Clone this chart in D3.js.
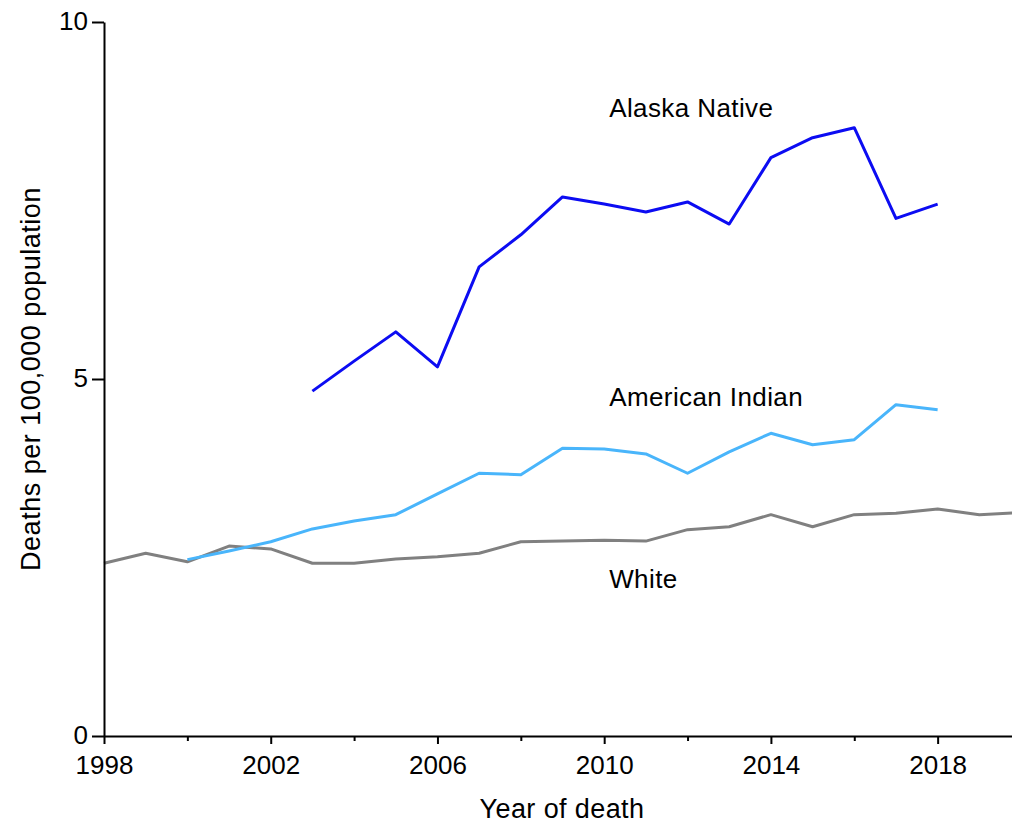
<!DOCTYPE html>
<html>
<head>
<meta charset="utf-8">
<script src="https://cdn.jsdelivr.net/npm/d3@7"></script>
<style>
  html, body { margin: 0; padding: 0; background: #fff; }
  svg { display: block; }
  text { font-family: "Liberation Sans", Arial, sans-serif; fill: #000; }
</style>
</head>
<body>
<svg id="chart" width="1012" height="824"></svg>
<script>
// Death rates per 100,000 population, by year of death
const whiteYears = d3.range(1998, 2021);
const whiteRates = [2.42, 2.56, 2.44, 2.66, 2.62, 2.42, 2.42, 2.48, 2.51, 2.56, 2.72, 2.73,
                    2.74, 2.73, 2.89, 2.93, 3.10, 2.93, 3.10, 3.12, 3.18, 3.10, 3.13];

const americanIndianYears = d3.range(2000, 2019);
const americanIndianRates = [2.47, 2.59, 2.72, 2.90, 3.01, 3.10, 3.39, 3.68, 3.66, 4.03,
                             4.02, 3.95, 3.68, 3.98, 4.24, 4.08, 4.15, 4.64, 4.57];

const alaskaNativeYears = d3.range(2003, 2019);
const alaskaNativeRates = [4.83, 5.25, 5.66, 5.17, 6.57, 7.02, 7.55, 7.45, 7.34, 7.48,
                           7.17, 8.10, 8.38, 8.52, 7.25, 7.45];

const xMajorTicks = [1998, 2002, 2006, 2010, 2014, 2018];
const xMinorTicks = [2000, 2004, 2008, 2012, 2016];
const yTicks = [0, 5, 10];

const seriesLabels = ["Alaska Native", "American Indian", "White"];

const svg = d3.select("#chart");
const margin = { left: 104, top: 22, bottom: 88 };
const plotH = 824 - margin.top - margin.bottom;

const x = d3.scaleLinear().domain([1998, 2020]).range([margin.left, margin.left + 917]);
const y = d3.scaleLinear().domain([0, 10]).range([margin.top + plotH, margin.top]);

const line = d3.line().x(d => x(d[0])).y(d => y(d[1]));

const series = [
  { name: seriesLabels[2], years: whiteYears, rates: whiteRates, color: "#808080" },
  { name: seriesLabels[1], years: americanIndianYears, rates: americanIndianRates, color: "#49b5fb" },
  { name: seriesLabels[0], years: alaskaNativeYears, rates: alaskaNativeRates, color: "#0c0cf2" }
];

series.forEach(s => {
  svg.append("path")
    .datum(s.years.map((yr, i) => [yr, s.rates[i]]))
    .attr("fill", "none")
    .attr("stroke", s.color)
    .attr("stroke-width", 3)
    .attr("stroke-linejoin", "round")
    .attr("d", line);
});

// x axis: labelled major ticks plus unlabelled minor ticks
const xAxis = svg.append("g")
  .attr("transform", `translate(0,${y(0)})`)
  .call(d3.axisBottom(x).tickValues(xMajorTicks).tickFormat(d3.format("d")).tickSize(8).tickSizeOuter(0));
svg.append("g")
  .attr("transform", `translate(0,${y(0)})`)
  .call(d3.axisBottom(x).tickValues(xMinorTicks).tickFormat("").tickSize(5).tickSizeOuter(0))
  .select(".domain").remove();

const yAxis = svg.append("g")
  .attr("transform", `translate(${x(1998)},0)`)
  .call(d3.axisLeft(y).tickValues(yTicks).tickFormat(d3.format("d")).tickSize(12).tickSizeOuter(0));

svg.selectAll(".domain").attr("stroke", "#000").attr("stroke-width", 2);
svg.selectAll(".tick line").attr("stroke", "#000").attr("stroke-width", 2);
svg.selectAll(".tick text")
  .style("font-family", "'Liberation Sans', Arial, sans-serif")
  .style("font-size", "26px")
  .attr("fill", "#000");
xAxis.selectAll(".tick text").attr("dy", "0.71em").attr("y", 20);
yAxis.selectAll(".tick text").attr("x", -16).attr("dy", "0.3em");

// axis titles
svg.append("text")
  .attr("x", 562).attr("y", 818)
  .attr("text-anchor", "middle")
  .style("font-size", "27px")
  .style("letter-spacing", "0.4px")
  .text("Year of death");

svg.append("text")
  .attr("transform", `translate(40,${y(5)}) rotate(-90)`)
  .attr("text-anchor", "middle")
  .style("font-size", "27px")
  .style("letter-spacing", "0.5px")
  .text("Deaths per 100,000 population");

// series labels
const labelPos = [
  { text: seriesLabels[0], value: 8.8 },
  { text: seriesLabels[1], value: 4.75 },
  { text: seriesLabels[2], value: 2.2 }
];
svg.selectAll(".series-label")
  .data(labelPos)
  .enter().append("text")
  .attr("class", "series-label")
  .attr("x", x(2010) + 5)
  .attr("y", d => y(d.value))
  .attr("dy", "0.35em")
  .style("font-size", "26px")
  .style("letter-spacing", "0.4px")
  .text(d => d.text);
</script>
</body>
</html>
